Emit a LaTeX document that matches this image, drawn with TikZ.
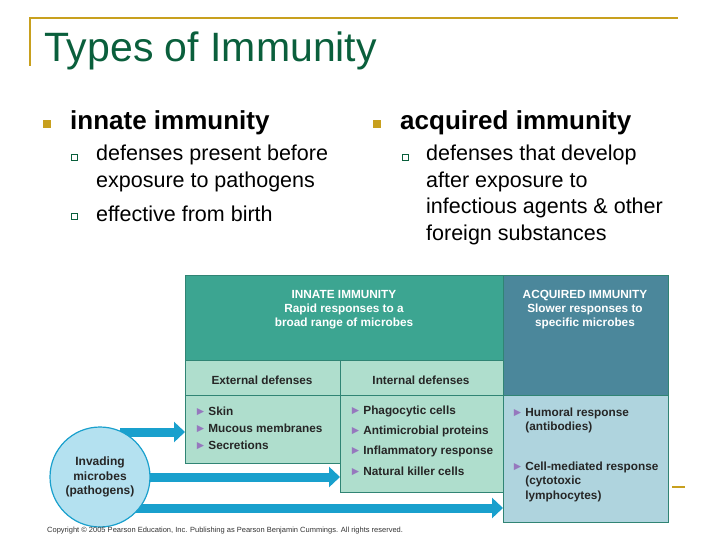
\documentclass[tikz,border=0pt]{standalone}
\usepackage{fontspec}
\setmainfont{Liberation Sans}
\usetikzlibrary{arrows.meta}
\definecolor{gold}{RGB}{200,160,30}
\definecolor{tgreen}{RGB}{10,95,60}
\definecolor{teal}{RGB}{60,165,145}
\definecolor{lteal}{RGB}{175,222,205}
\definecolor{acq}{RGB}{75,135,155}
\definecolor{lacq}{RGB}{175,212,222}
\definecolor{arr}{RGB}{25,160,205}
\definecolor{circ}{RGB}{180,225,240}
\definecolor{tri}{RGB}{150,120,190}
\tikzset{
 cell/.style={draw=teal!80!black,line width=0.8pt,anchor=north west,inner sep=0},
 hd/.style={font=\fontsize{11.8}{14}\selectfont\bfseries,text=white,align=center},
 sh/.style={font=\fontsize{11.8}{14}\selectfont\bfseries,text=black!85},
 it/.style={font=\fontsize{11.8}{14}\selectfont\bfseries,text=black!85,anchor=west,align=left},
 big/.style={line width=9pt,draw=arr,-{Triangle[length=11pt,width=20pt]}},
 main/.style={font=\fontsize{26}{30}\selectfont\bfseries,anchor=west},
 sub/.style={font=\fontsize{21.5}{27}\selectfont,anchor=west,align=left},
 gb/.style={fill=gold,minimum size=8pt,inner sep=0},
 hb/.style={draw=tgreen,fill=white,minimum size=6pt,inner sep=0,line width=0.7pt},
}
\newcommand{\tr}{\textcolor{tri}{\fontsize{12}{10}\selectfont\char"25BA}\,}
\begin{document}
\begin{tikzpicture}[x=1pt,y=-1pt]
\path[use as bounding box] (0,0) rectangle (720,540);
\draw[gold,line width=2pt] (30,66) -- (30,18) -- (678,18);
\draw[gold,line width=2pt] (672,487) -- (685,487);
\node[anchor=west,text=tgreen,font=\fontsize{41}{46}\selectfont,inner sep=0] (title) at (44,51) {Types of Immunity};
\node[gb] (b1) at (47,124) {};
\node[main,inner sep=0] (t1) at (70,123) {innate immunity};
\node[hb] (s1) at (74,157) {};
\node[sub,inner sep=0] (u1) at (96,168.5) {defenses present before\\exposure to pathogens};
\node[hb] (s2) at (74,216) {};
\node[sub,inner sep=0] (u2) at (96,214) {effective from birth};
\node[gb] (b2) at (377,124) {};
\node[main,inner sep=0] (t2) at (400,123) {acquired immunity};
\node[hb] (s3) at (405,157) {};
\node[sub,font=\fontsize{21.5}{26.7}\selectfont,inner sep=0] (u3) at (426,195) {defenses that develop\\after exposure to\\infectious agents \& other\\foreign substances};
% cells
\node[cell,fill=teal,minimum width=318pt,minimum height=85pt] (ih) at (185,275) {};
\node[cell,fill=acq,minimum width=165pt,minimum height=120pt] (ah) at (503,275) {};
\node[cell,fill=lteal,minimum width=155pt,minimum height=35pt] (eh) at (185,360) {};
\node[cell,fill=lteal,minimum width=163pt,minimum height=35pt] (nh) at (340,360) {};
\node[cell,fill=lteal,minimum width=155pt,minimum height=68pt] (eb) at (185,395) {};
\node[cell,fill=lteal,minimum width=163pt,minimum height=97pt] (nb) at (340,395) {};
\node[cell,fill=lacq,minimum width=165pt,minimum height=127pt] (ab) at (503,395) {};
\node[hd] at (344,310) {INNATE IMMUNITY\\Rapid responses to a\\broad range of microbes};
\node[hd] at (585,310) {ACQUIRED IMMUNITY\\Slower responses to\\specific microbes};
\node[sh] at (262,380) {External defenses};
\node[sh] at (421,380) {Internal defenses};
\node[it] at (191,411) {\tr Skin};
\node[it] at (191,428) {\tr Mucous membranes};
\node[it] at (191,445) {\tr Secretions};
\node[it] at (346,411) {\tr Phagocytic cells};
\node[it] at (346,431) {\tr Antimicrobial proteins};
\node[it] at (346,451) {\tr Inflammatory response};
\node[it] at (346,471) {\tr Natural killer cells};
\node[it,anchor=north west] at (508,404) {\tr Humoral response\\\hphantom{\tr}(antibodies)};
\node[it,anchor=north west,font=\fontsize{11.8}{14.5}\selectfont\bfseries] at (508,458) {\tr Cell-mediated response\\\hphantom{\tr}(cytotoxic\\\hphantom{\tr}lymphocytes)};
% circle and arrows
\coordinate (a1) at (185,432);
\coordinate (a2) at (340,477);
\coordinate (a3) at (503,508);
\draw[big] (120,432) -- (a1);
\draw[big] (140,477) -- (a2);
\draw[big] (130,508) -- (a3);
\node[circle,draw=arr,fill=circ,line width=1.2pt,minimum size=100pt,inner sep=0,align=center,font=\fontsize{12}{14.5}\selectfont\bfseries,text=black!85] (c) at (100,477) {Invading\\microbes\\(pathogens)};
\node[anchor=west,font=\fontsize{7.5}{8}\selectfont,text=black!80,inner sep=0] (cp) at (47,531) {Copyright © 2005 Pearson Education, Inc. Publishing as Pearson Benjamin Cummings. All rights reserved.};
\end{tikzpicture}
\end{document}
